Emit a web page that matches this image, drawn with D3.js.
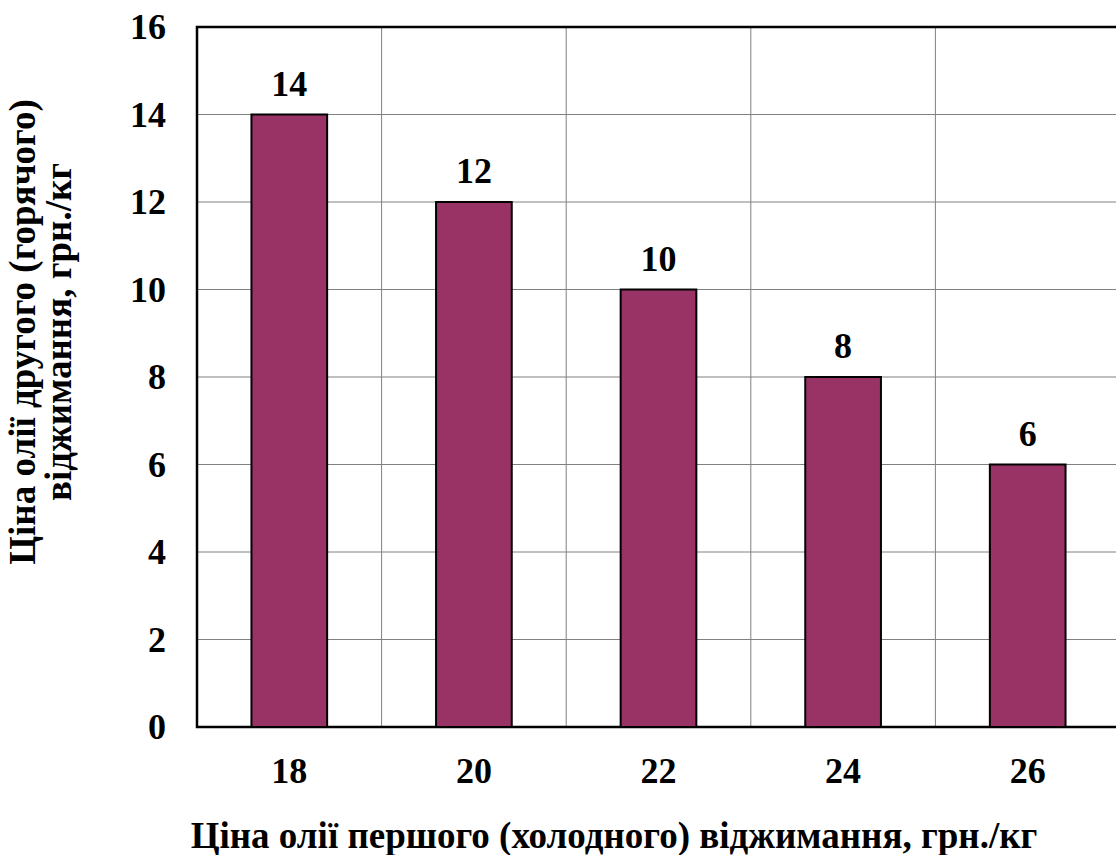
<!DOCTYPE html>
<html>
<head>
<meta charset="utf-8">
<script src="https://cdn.jsdelivr.net/npm/d3@7"></script>
<style>
  html, body { margin: 0; padding: 0; background: #fff; }
  svg { display: block; }
</style>
</head>
<body>
<svg id="chart" width="1116" height="855"></svg>
<script>
// Price of first (cold) pressing oil, UAH/kg
const coldPrices = ["18", "20", "22", "24", "26"];
// Price of second (hot) pressing oil, UAH/kg
const hotPrices = [14, 12, 10, 8, 6];
const yTicks = [0, 2, 4, 6, 8, 10, 12, 14, 16];

const xTitle = "Ціна олії першого (холодного) віджимання, грн./кг";
const yTitleLines = ["Ціна олії другого (горячого)", "віджимання, грн./кг"];

const FONT = "'Times New Roman', 'Liberation Serif', Times, 'DejaVu Serif', serif";

const svg = d3.select("#chart")
  .attr("font-family", FONT)
  .attr("font-weight", "bold");

const plot = { left: 197, top: 27, right: 1120, bottom: 727 };

const x = d3.scaleBand()
  .domain(coldPrices)
  .range([plot.left, plot.right])
  .paddingInner(0.59)
  .paddingOuter(0.295);

const xCat = d3.scaleBand()
  .domain(coldPrices)
  .range([plot.left, plot.right]);

const y = d3.scaleLinear().domain([0, 16]).range([plot.bottom, plot.top]);

// horizontal gridlines
svg.append("g")
  .selectAll("line")
  .data(yTicks.filter(d => d > 0 && d < 16))
  .join("line")
  .attr("x1", plot.left).attr("x2", plot.right)
  .attr("y1", d => y(d)).attr("y2", d => y(d))
  .attr("stroke", "#808080").attr("stroke-width", 1);

// vertical gridlines between categories
svg.append("g")
  .selectAll("line")
  .data(coldPrices.slice(1))
  .join("line")
  .attr("x1", d => xCat(d)).attr("x2", d => xCat(d))
  .attr("y1", plot.top).attr("y2", plot.bottom)
  .attr("stroke", "#808080").attr("stroke-width", 1);

// plot frame
svg.append("rect")
  .attr("x", plot.left).attr("y", plot.top)
  .attr("width", plot.right - plot.left).attr("height", plot.bottom - plot.top)
  .attr("fill", "none").attr("stroke", "#000").attr("stroke-width", 2.5);

// bars
svg.append("g")
  .selectAll("rect")
  .data(hotPrices)
  .join("rect")
  .attr("x", (d, i) => x(coldPrices[i]))
  .attr("y", d => y(d))
  .attr("width", x.bandwidth())
  .attr("height", d => y(0) - y(d))
  .attr("fill", "#993366")
  .attr("stroke", "#000").attr("stroke-width", 2);

// value labels
svg.append("g")
  .selectAll("text")
  .data(hotPrices)
  .join("text")
  .attr("x", (d, i) => x(coldPrices[i]) + x.bandwidth() / 2)
  .attr("y", d => y(d) - 19)
  .attr("text-anchor", "middle")
  .attr("font-size", 36)
  .text(d => d);

// y axis tick labels
svg.append("g")
  .selectAll("text")
  .data(yTicks)
  .join("text")
  .attr("x", 166)
  .attr("y", d => y(d) + 12)
  .attr("text-anchor", "end")
  .attr("font-size", 36)
  .text(d => d);

// x axis tick labels
svg.append("g")
  .selectAll("text")
  .data(coldPrices)
  .join("text")
  .attr("x", d => xCat(d) + xCat.bandwidth() / 2)
  .attr("y", 783)
  .attr("text-anchor", "middle")
  .attr("font-size", 36)
  .text(d => d);

// x axis title
svg.append("text")
  .attr("x", 614).attr("y", 848)
  .attr("text-anchor", "middle")
  .attr("font-size", 37)
  .text(xTitle);

// y axis title (two lines, rotated)
const yt = svg.append("text")
  .attr("transform", "translate(0,332) rotate(-90)")
  .attr("text-anchor", "middle")
  .attr("font-size", 37);
yTitleLines.forEach((line, i) => {
  yt.append("tspan")
    .attr("x", 0)
    .attr("y", 35 + i * 36)
    .text(line);
});
</script>
</body>
</html>
